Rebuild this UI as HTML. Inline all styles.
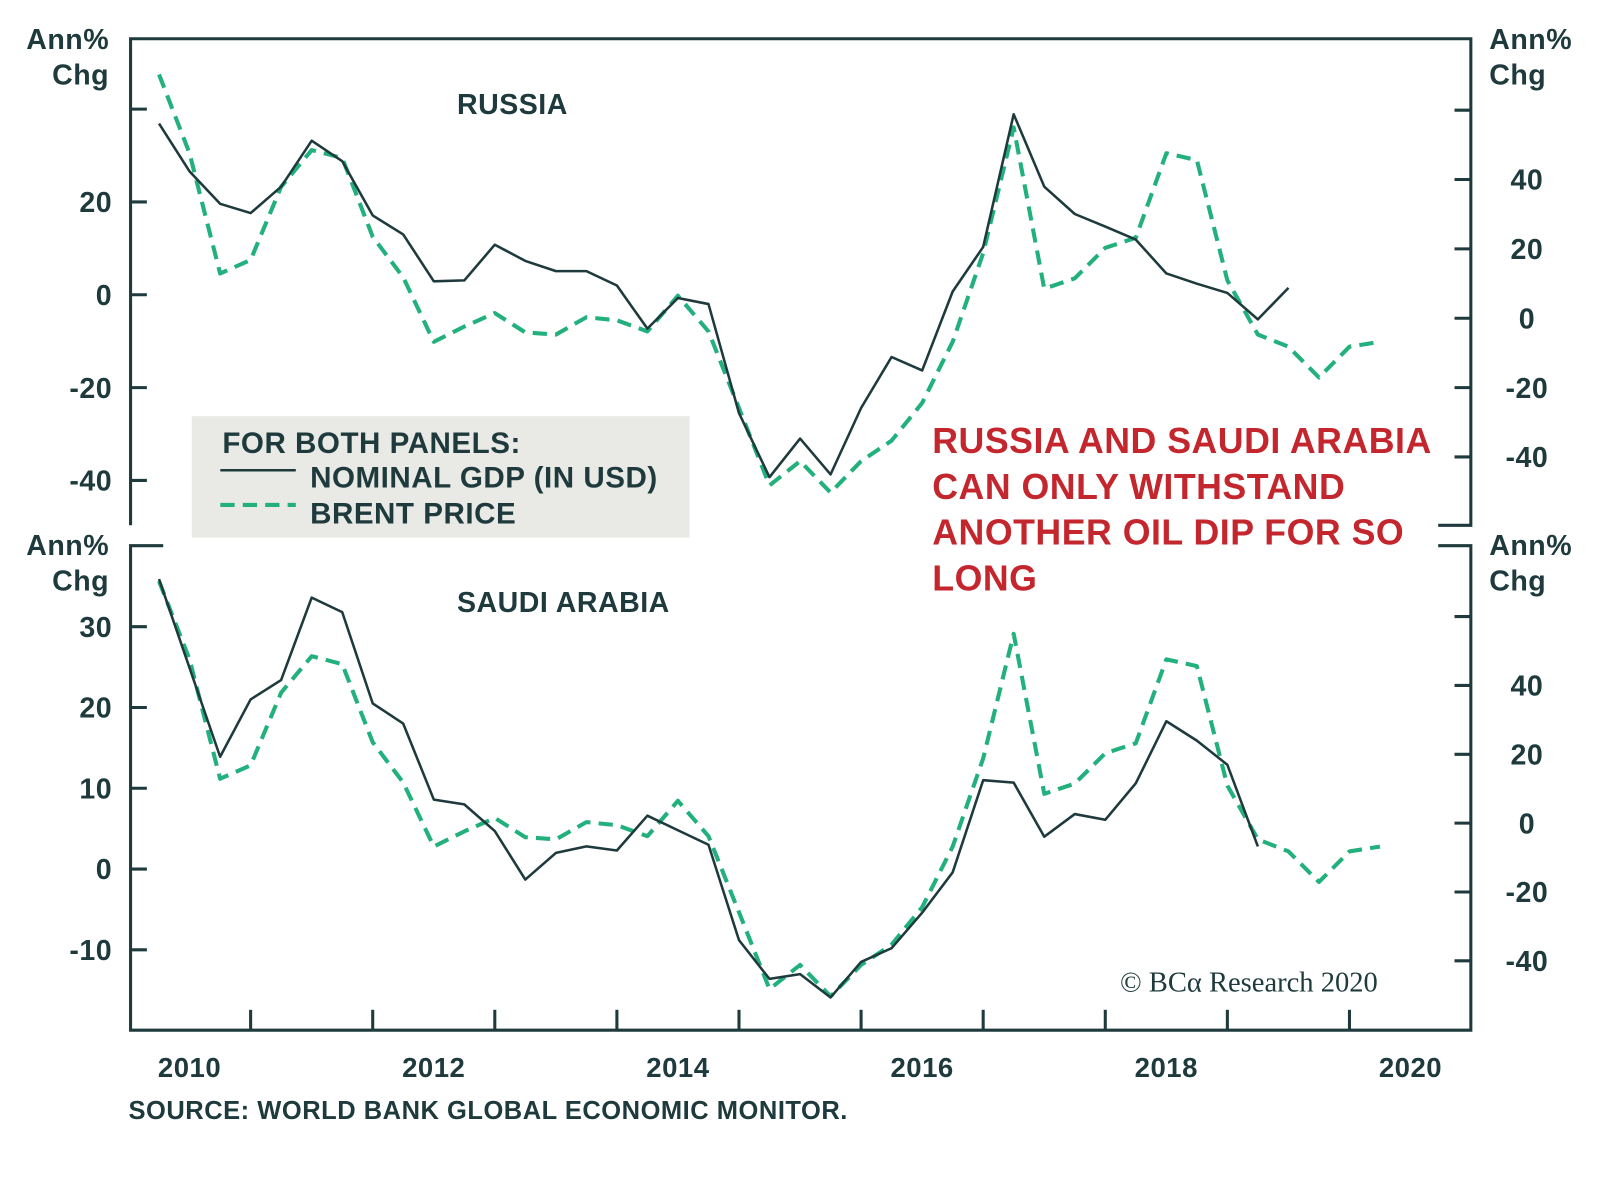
<!DOCTYPE html>
<html><head><meta charset="utf-8"><style>
body{margin:0;background:#fff;}
svg{display:block;font-family:"Liberation Sans",sans-serif;font-weight:bold;}
</style></head><body>
<svg width="1600" height="1182" viewBox="0 0 1600 1182"><g id="c" transform="scale(1.02)"></g></svg>
<script>
const russiaGdp=[36.9,26.6,19.6,17.6,23.3,33.2,28.8,17.1,13.0,2.9,3.1,10.8,7.3,5.1,5.1,2.0,-7.3,-0.7,-2.0,-25.5,-39.3,-31.0,-38.7,-24.4,-13.4,-16.3,0.7,10.3,38.9,23.3,17.4,14.7,11.9,4.6,2.4,0.4,-5.3,1.5];
const brent=[70.3,47.6,12.9,16.8,37.9,48.5,46.2,23.5,11.8,-6.8,-2.4,1.5,-4.1,-4.7,0.3,-0.6,-3.8,6.5,-3.8,-25.9,-48.2,-41.2,-50.3,-41.2,-35.3,-24.4,-6.8,18.8,55,8.5,11.5,20.3,23.2,47.6,45.6,10.9,-4.7,-8.2,-17.1,-8.2,-6.8];
const saudiGdp=[35.9,24.9,13.9,21.0,23.4,33.6,31.8,20.5,18.0,8.6,8.0,4.7,-1.3,2.0,2.8,2.3,6.6,4.8,3.0,-8.8,-13.6,-13.0,-15.9,-11.5,-9.8,-5.4,-0.4,11.0,10.7,4.0,6.8,6.1,10.6,18.3,15.9,12.9,2.8];
const topLeftTicks=[20,0,-20,-40];
const topRightTicks=[40,20,0,-20,-40];
const botLeftTicks=[30,20,10,0,-10];
const botRightTicks=[40,20,0,-20,-40];
const yearLabels=[2010,2012,2014,2016,2018,2020];
const startYear=2010.25;

const svg=document.getElementById('c');
const NS='http://www.w3.org/2000/svg';
const DARK='#1e3a3c',GREEN='#22b07d',RED='#c4262e';
function el(t,a){const e=document.createElementNS(NS,t);for(const k in a)e.setAttribute(k,a[k]);svg.appendChild(e);return e;}
function txt(s,x,y,o,name){const e=el('text',Object.assign({x:x,y:y,fill:DARK,'font-size':28,'letter-spacing':0.5},o||{}));e.textContent=s;

return e;}
const X=t=>126+(t-2010)*119.7;
const tlY=v=>289-v*4.55, trY=v=>312-v*3.4, blY=v=>852-v*7.92, brY=v=>807-v*3.375;
const L=128,R=1442;
const fr=el('path',{d:`M${L} 515 L${L} 38 L${R} 38 L${R} 515 L1410 515 M1410 535 L${R} 535 L${R} 1010 L${L} 1010 L${L} 535 L160 535`,fill:'none',stroke:DARK,'stroke-width':3});


function ticks(vals,fy,side,lab,name){
  vals.forEach(v=>{const y=fy(v);
    const t=el('line',side=='l'?{x1:L,x2:L+16,y1:y,y2:y}:{x1:R-16,x2:R,y1:y,y2:y});
    t.setAttribute('stroke',DARK);t.setAttribute('stroke-width',3);
    
    
    if(lab) txt(String(v),side=='l'?110:1497,y+10,{'text-anchor':side=='l'?'end':'middle'},name+'-label');
  });
}
ticks(topLeftTicks,tlY,'l',true,'top-left-axis');ticks([40],tlY,'l',false,'top-left-axis');
ticks(topRightTicks,trY,'r',true,'top-right-axis');ticks([60],trY,'r',false,'top-right-axis');
ticks(botLeftTicks,blY,'l',true,'bottom-left-axis');
ticks(botRightTicks,brY,'r',true,'bottom-right-axis');ticks([60],brY,'r',false,'bottom-right-axis');
for(let yr=2011;yr<=2020;yr++){const t=el('line',{x1:X(yr),x2:X(yr),y1:990,y2:1010,stroke:DARK,'stroke-width':3});

}
yearLabels.forEach(y=>txt(String(y),X(y+0.5),1056,{'text-anchor':'middle','font-size':27},'x-axis-label'));
[[107,48],[107,544]].forEach(([x,y])=>{txt('Ann%',x,y,{'text-anchor':'end'},'left-unit-label');txt('Chg',x,y+35,{'text-anchor':'end'},'left-unit-label');});
[[1460,48],[1460,544]].forEach(([x,y])=>{txt('Ann%',x,y,{},'right-unit-label');txt('Chg',x,y+35,{},'right-unit-label');});
txt('RUSSIA',448,112,{},'russia-panel-title');
txt('SAUDI ARABIA',448,600,{},'saudi-panel-title');
function line(data,fy,dashed,name){
  const pts=data.map((v,i)=>X(startYear+i*0.25).toFixed(1)+','+fy(v).toFixed(1)).join(' ');
  const p=el('polyline',{points:pts,fill:'none',stroke:dashed?GREEN:DARK,'stroke-width':dashed?4:2.5,'stroke-dasharray':dashed?'14 8':'none','stroke-linejoin':'round'});
  
  
}
line(brent,trY,true,'russia-brent-line');
line(russiaGdp,tlY,false,'russia-gdp-line');
line(brent,brY,true,'saudi-brent-line');
line(saudiGdp,blY,false,'saudi-gdp-line');
const lg=el('rect',{x:188,y:408,width:488,height:119,fill:'#e9e9e5'});


txt('FOR BOTH PANELS:',218,444,{'font-size':29},'legend-title');
const l1=el('line',{x1:216,x2:290,y1:461,y2:461,stroke:DARK,'stroke-width':2.5});


txt('NOMINAL GDP (IN USD)',304,478,{'font-size':29},'legend-gdp-label');
const l2=el('line',{x1:216,x2:290,y1:495,y2:495,stroke:GREEN,'stroke-width':4,'stroke-dasharray':'14 8'});


txt('BRENT PRICE',304,513,{'font-size':29},'legend-brent-label');
['RUSSIA AND SAUDI ARABIA','CAN ONLY WITHSTAND','ANOTHER OIL DIP FOR SO','LONG'].forEach((s,i)=>txt(s,914,444+i*45,{fill:RED,'font-size':35},'annotation-text'));
txt('© BCα Research 2020',1098,972,{'font-family':'Liberation Serif, serif','font-weight':'normal','font-size':28,'letter-spacing':0},'copyright');
txt('SOURCE: WORLD BANK GLOBAL ECONOMIC MONITOR.',126,1097,{'font-size':25},'source-note');
</script>
</body></html>
